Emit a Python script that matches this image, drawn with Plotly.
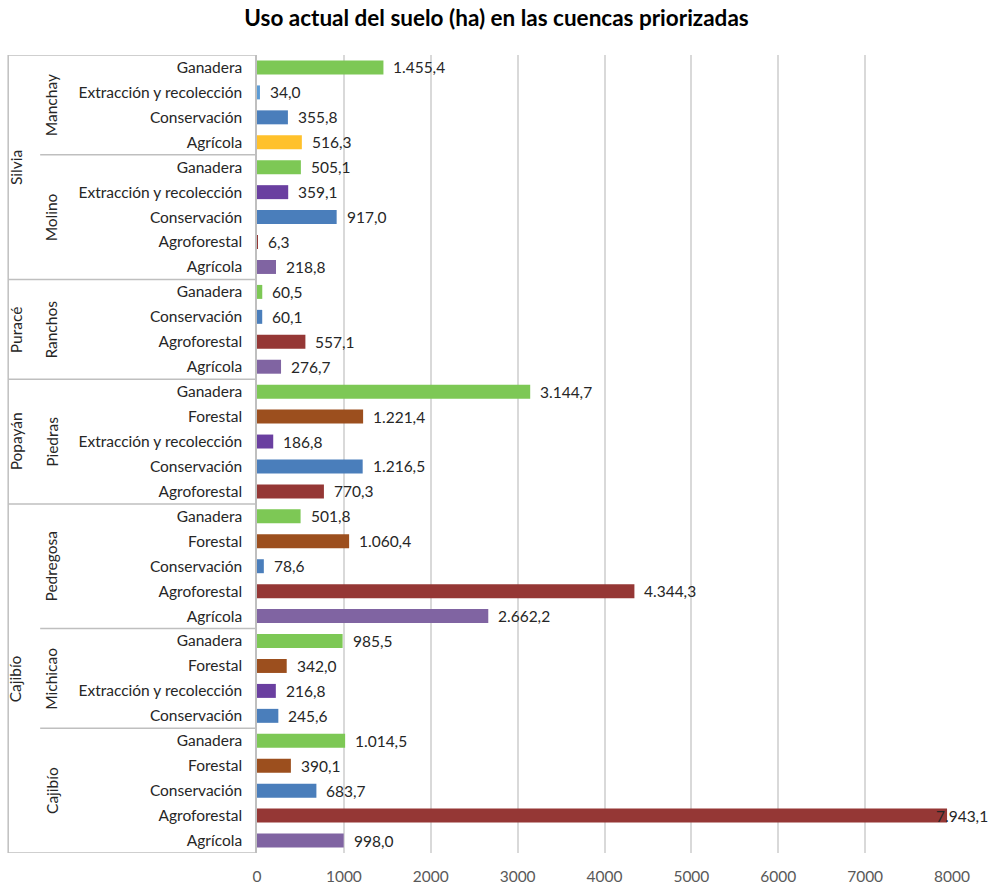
import plotly.graph_objects as go

# Land use (ha) per prioritized watershed, listed top to bottom
municipios = ["Silvia", "Puracé", "Popayán", "Cajibío"]
cuencas = ["Manchay", "Molino", "Ranchos", "Piedras", "Pedregosa", "Michicao", "Cajibío"]
cuenca_municipio = ["Silvia", "Silvia", "Puracé", "Popayán", "Cajibío", "Cajibío", "Cajibío"]

usos_manchay = ["Ganadera", "Extracción y recolección", "Conservación", "Agrícola"]
ha_manchay = [1455.4, 34.0, 355.8, 516.3]

usos_molino = ["Ganadera", "Extracción y recolección", "Conservación", "Agroforestal", "Agrícola"]
ha_molino = [505.1, 359.1, 917.0, 6.3, 218.8]

usos_ranchos = ["Ganadera", "Conservación", "Agroforestal", "Agrícola"]
ha_ranchos = [60.5, 60.1, 557.1, 276.7]

usos_piedras = ["Ganadera", "Forestal", "Extracción y recolección", "Conservación", "Agroforestal"]
ha_piedras = [3144.7, 1221.4, 186.8, 1216.5, 770.3]

usos_pedregosa = ["Ganadera", "Forestal", "Conservación", "Agroforestal", "Agrícola"]
ha_pedregosa = [501.8, 1060.4, 78.6, 4344.3, 2662.2]

usos_michicao = ["Ganadera", "Forestal", "Extracción y recolección", "Conservación"]
ha_michicao = [985.5, 342.0, 216.8, 245.6]

usos_cajibio = ["Ganadera", "Forestal", "Conservación", "Agroforestal", "Agrícola"]
ha_cajibio = [1014.5, 390.1, 683.7, 7943.1, 998.0]

x_ticks = [0, 1000, 2000, 3000, 4000, 5000, 6000, 7000, 8000]

grupos = [
    (usos_manchay, ha_manchay),
    (usos_molino, ha_molino),
    (usos_ranchos, ha_ranchos),
    (usos_piedras, ha_piedras),
    (usos_pedregosa, ha_pedregosa),
    (usos_michicao, ha_michicao),
    (usos_cajibio, ha_cajibio),
]

# Colours by land use; Manchay uses its own shades for two of them
colores = {
    "Ganadera": "#7DC855",
    "Extracción y recolección": "#6A3FA0",
    "Conservación": "#4A7EBB",
    "Agroforestal": "#953735",
    "Agrícola": "#8064A2",
    "Forestal": "#9C4F1E",
}
colores_manchay = {"Extracción y recolección": "#5B9BD5", "Agrícola": "#FFC12B"}

usos, valores, barra_color = [], [], []
limites = []  # (first row, last row) of each watershed
for cuenca, (u, v) in zip(cuencas, grupos):
    inicio = len(usos)
    for uso, ha in zip(u, v):
        usos.append(uso)
        valores.append(ha)
        if cuenca == "Manchay" and uso in colores_manchay:
            barra_color.append(colores_manchay[uso])
        else:
            barra_color.append(colores[uso])
    limites.append((inicio, len(usos) - 1))

filas = list(range(len(usos)))
n = len(usos)

FONT = "Lato, 'Open Sans', sans-serif"
TXT = "#262626"
LINE = "#BFBFBF"
FS = 15.5


def formato(v):
    s = f"{v:,.1f}"
    return s.replace(",", "#").replace(".", ",").replace("#", ".")


fig = go.Figure(
    go.Bar(
        x=valores,
        y=filas,
        orientation="h",
        width=0.56,
        marker=dict(color=barra_color, line=dict(width=0)),
        hovertemplate="%{x}<extra></extra>",
    )
)

# Value labels beside each bar
anots = []
for i, v in enumerate(valores):
    anots.append(
        dict(
            x=v, y=i, xref="x", yref="y", text=formato(v), showarrow=False,
            xanchor="left", yanchor="middle", xshift=8 if v < 7500 else -13,
            font=dict(family=FONT, size=FS, color=TXT),
        )
    )

# Category frame on the left
X_OUT = -0.358
X_IN = -0.312
shapes = [
    dict(type="line", xref="paper", yref="y", x0=X_OUT, x1=X_OUT, y0=-0.5, y1=n - 0.5,
         line=dict(color=LINE, width=1.5)),
    dict(type="line", xref="paper", yref="y", x0=X_OUT, x1=0, y0=-0.5, y1=-0.5,
         line=dict(color=LINE, width=1.5)),
    dict(type="line", xref="paper", yref="y", x0=X_OUT, x1=0, y0=n - 0.5, y1=n - 0.5,
         line=dict(color=LINE, width=1.5)),
]
for k, (a, b) in enumerate(limites[:-1]):
    mismo = cuenca_municipio[k] == cuenca_municipio[k + 1]
    shapes.append(
        dict(type="line", xref="paper", yref="y", x0=X_IN if mismo else X_OUT, x1=0,
             y0=b + 0.5, y1=b + 0.5, line=dict(color=LINE, width=1.5))
    )

# Watershed names (rotated)
for cuenca, (a, b) in zip(cuencas, limites):
    anots.append(
        dict(x=-0.296, y=(a + b) / 2, xref="paper", yref="y", text=cuenca, showarrow=False,
             textangle=-90, xanchor="center", yanchor="middle",
             font=dict(family=FONT, size=FS, color=TXT))
    )

# Municipality names (rotated)
for m in municipios:
    idx = [k for k, c in enumerate(cuenca_municipio) if c == m]
    a = limites[idx[0]][0]
    b = limites[idx[-1]][1]
    anots.append(
        dict(x=-0.347, y=(a + b) / 2, xref="paper", yref="y", text=m, showarrow=False,
             textangle=-90, xanchor="center", yanchor="middle",
             font=dict(family=FONT, size=FS, color=TXT))
    )

fig.update_layout(
    width=993,
    height=887,
    margin=dict(l=257, r=41, t=55, b=34),
    paper_bgcolor="white",
    plot_bgcolor="white",
    showlegend=False,
    title=dict(
        text="<b>Uso actual del suelo (ha) en las cuencas priorizadas</b>",
        x=0.5, xanchor="center", y=0.98, yanchor="middle",
        font=dict(family=FONT, size=22.5, color="#000000"),
    ),
    xaxis=dict(
        range=[0, 8000],
        tickvals=x_ticks,
        ticktext=[str(t) for t in x_ticks],
        showgrid=True,
        gridcolor="#D9D9D9",
        gridwidth=1.5,
        zeroline=False,
        showline=False,
        ticks="",
        ticklabelstandoff=12,
        automargin=False,
        tickfont=dict(family=FONT, size=FS, color="#595959"),
        fixedrange=True,
    ),
    yaxis=dict(
        range=[n - 0.5, -0.5],
        tickmode="array",
        tickvals=filas,
        ticktext=usos,
        showgrid=False,
        zeroline=False,
        showline=True,
        linecolor=LINE,
        linewidth=1.5,
        ticks="",
        ticklabelstandoff=10,
        automargin=False,
        tickfont=dict(family=FONT, size=FS, color=TXT),
        fixedrange=True,
    ),
    shapes=shapes,
    annotations=anots,
)

fig.write_html("out.html")
